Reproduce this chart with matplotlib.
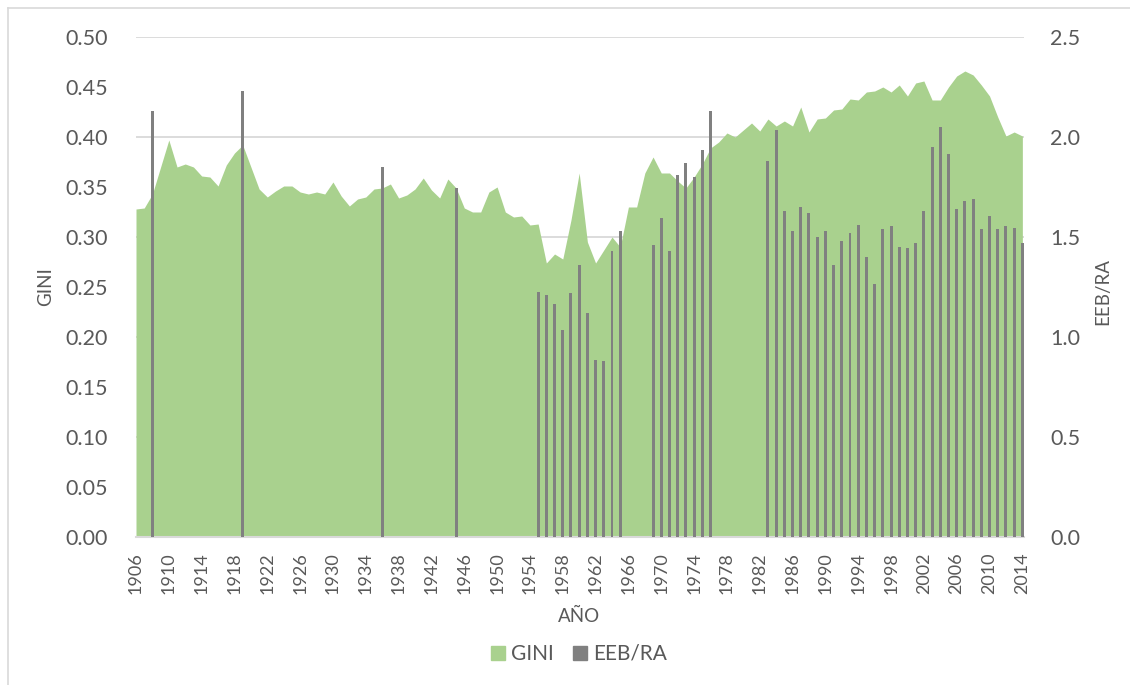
import matplotlib
matplotlib.use("Agg")
import matplotlib.pyplot as plt
from matplotlib.patches import Patch
from matplotlib.lines import Line2D
from matplotlib.ticker import FormatStrFormatter
import numpy as np

plt.rcParams['font.family'] = ['Lato', 'DejaVu Sans']

# GINI, one value per year 1906-2014
years = list(range(1906, 2015))
gini = [
    0.328, 0.329, 0.343, 0.370, 0.397, 0.370, 0.373, 0.370, 0.361, 0.360,  # 1906-1915
    0.351, 0.372, 0.384, 0.392, 0.370, 0.348, 0.340, 0.346, 0.351, 0.351,  # 1916-1925
    0.345, 0.343, 0.345, 0.343, 0.355, 0.341, 0.331, 0.338, 0.340, 0.348,  # 1926-1935
    0.349, 0.353, 0.339, 0.342, 0.348, 0.359, 0.347, 0.339, 0.358, 0.349,  # 1936-1945
    0.329, 0.325, 0.325, 0.345, 0.350, 0.325, 0.320, 0.321, 0.312, 0.313,  # 1946-1955
    0.274, 0.283, 0.278, 0.317, 0.364, 0.295, 0.274, 0.287, 0.300, 0.290,  # 1956-1965
    0.330, 0.330, 0.364, 0.380, 0.364, 0.364, 0.356, 0.349, 0.360, 0.373,  # 1966-1975
    0.389, 0.395, 0.404, 0.400, 0.407, 0.414, 0.406, 0.418, 0.411, 0.416,  # 1976-1985
    0.411, 0.430, 0.405, 0.418, 0.419, 0.427, 0.428, 0.438, 0.437, 0.445,  # 1986-1995
    0.446, 0.450, 0.445, 0.452, 0.441, 0.454, 0.456, 0.437, 0.437, 0.450,  # 1996-2005
    0.461, 0.466, 0.462, 0.452, 0.441, 0.420, 0.401, 0.405, 0.401,         # 2006-2014
]

# EEB/RA, only the years that have a value
eeb_years = [1908, 1919, 1936, 1945,
             1955, 1956, 1957, 1958, 1959, 1960, 1961, 1962, 1963, 1964, 1965,
             1969, 1970, 1971, 1972, 1973, 1974, 1975, 1976,
             1983, 1984, 1985, 1986, 1987, 1988, 1989, 1990, 1991, 1992, 1993,
             1994, 1995, 1996, 1997, 1998, 1999, 2000, 2001, 2002, 2003, 2004,
             2005, 2006, 2007, 2008, 2009, 2010, 2011, 2012, 2013, 2014]
eeb = [2.13, 2.23, 1.85, 1.745,
       1.227, 1.21, 1.165, 1.035, 1.22, 1.36, 1.12, 0.885, 0.88, 1.43, 1.53,
       1.46, 1.595, 1.43, 1.81, 1.87, 1.80, 1.935, 2.13,
       1.88, 2.035, 1.63, 1.53, 1.65, 1.62, 1.50, 1.53, 1.36, 1.48, 1.52,
       1.56, 1.40, 1.265, 1.54, 1.555, 1.45, 1.445, 1.47, 1.63, 1.95, 2.05,
       1.915, 1.64, 1.68, 1.69, 1.54, 1.605, 1.54, 1.555, 1.545, 1.47]

green = '#a9d18e'
grey = '#808080'
txt = '#595959'
grid_c = '#d9d9d9'

W, H = 1130, 685
fig = plt.figure(figsize=(W / 100, H / 100), dpi=100)
ax = fig.add_axes([136 / W, 1 - 537 / H, 888 / W, 500 / H])

for y in np.arange(0.1, 0.51, 0.1):
    ax.axhline(y, color=grid_c, lw=1.3, zorder=0)
ax.fill_between(years, gini, 0, color=green, lw=0, zorder=1)

ax.set_xlim(1906, 2014.2)
ax.set_ylim(0, 0.5)
ax.set_yticks(np.arange(0, 0.501, 0.05))
ax.yaxis.set_major_formatter(FormatStrFormatter('%.2f'))
ax.set_xticks(list(range(1906, 2015, 4)))
ax.set_xticklabels([str(y) for y in range(1906, 2015, 4)], rotation=90)
ax.tick_params(axis='y', length=0, pad=20, labelsize=15.5, labelcolor=txt)
ax.tick_params(axis='x', length=0, pad=11, labelsize=13, labelcolor=txt)
for s in ['top', 'left', 'right']:
    ax.spines[s].set_visible(False)
ax.spines['bottom'].set_color(grid_c)
ax.spines['bottom'].set_linewidth(1.5)

ax2 = ax.twinx()
ax2.bar(eeb_years, eeb, width=0.36, color=grey, zorder=2)
ax2.set_ylim(0, 2.5)
ax2.set_yticks(np.arange(0, 2.51, 0.5))
ax2.yaxis.set_major_formatter(FormatStrFormatter('%.1f'))
ax2.tick_params(axis='y', length=0, pad=19, labelsize=15.5, labelcolor=txt)
for s in ['top', 'left', 'right', 'bottom']:
    ax2.spines[s].set_visible(False)

fig.text(46 / W, 1 - 287 / H, 'GINI', rotation=90, ha='center', va='center',
         fontsize=13.5, color=txt)
fig.text(1103 / W, 1 - 291 / H, 'EEB/RA', rotation=90, ha='center', va='center',
         fontsize=13.5, color=txt)
fig.text(579 / W, 1 - 616 / H, 'AÑO', ha='center', va='center',
         fontsize=13.5, color=txt)

handles = [Patch(color=green, label='GINI'), Patch(color=grey, label='EEB/RA')]
fig.legend(handles=handles, loc='center', bbox_to_anchor=(579 / W, 1 - 654 / H),
           ncol=2, frameon=False, fontsize=15, labelcolor=txt,
           handlelength=0.67, handleheight=0.67, handletextpad=0.3,
           columnspacing=0.9)

# chart area border
fig.add_artist(Line2D([7.5 / W, 7.5 / W], [0, 1 - 8 / H], color=grid_c, lw=1.2))
fig.add_artist(Line2D([7.5 / W, 1], [1 - 8 / H, 1 - 8 / H], color=grid_c, lw=1.2))

fig.savefig('out.png', dpi=100)
